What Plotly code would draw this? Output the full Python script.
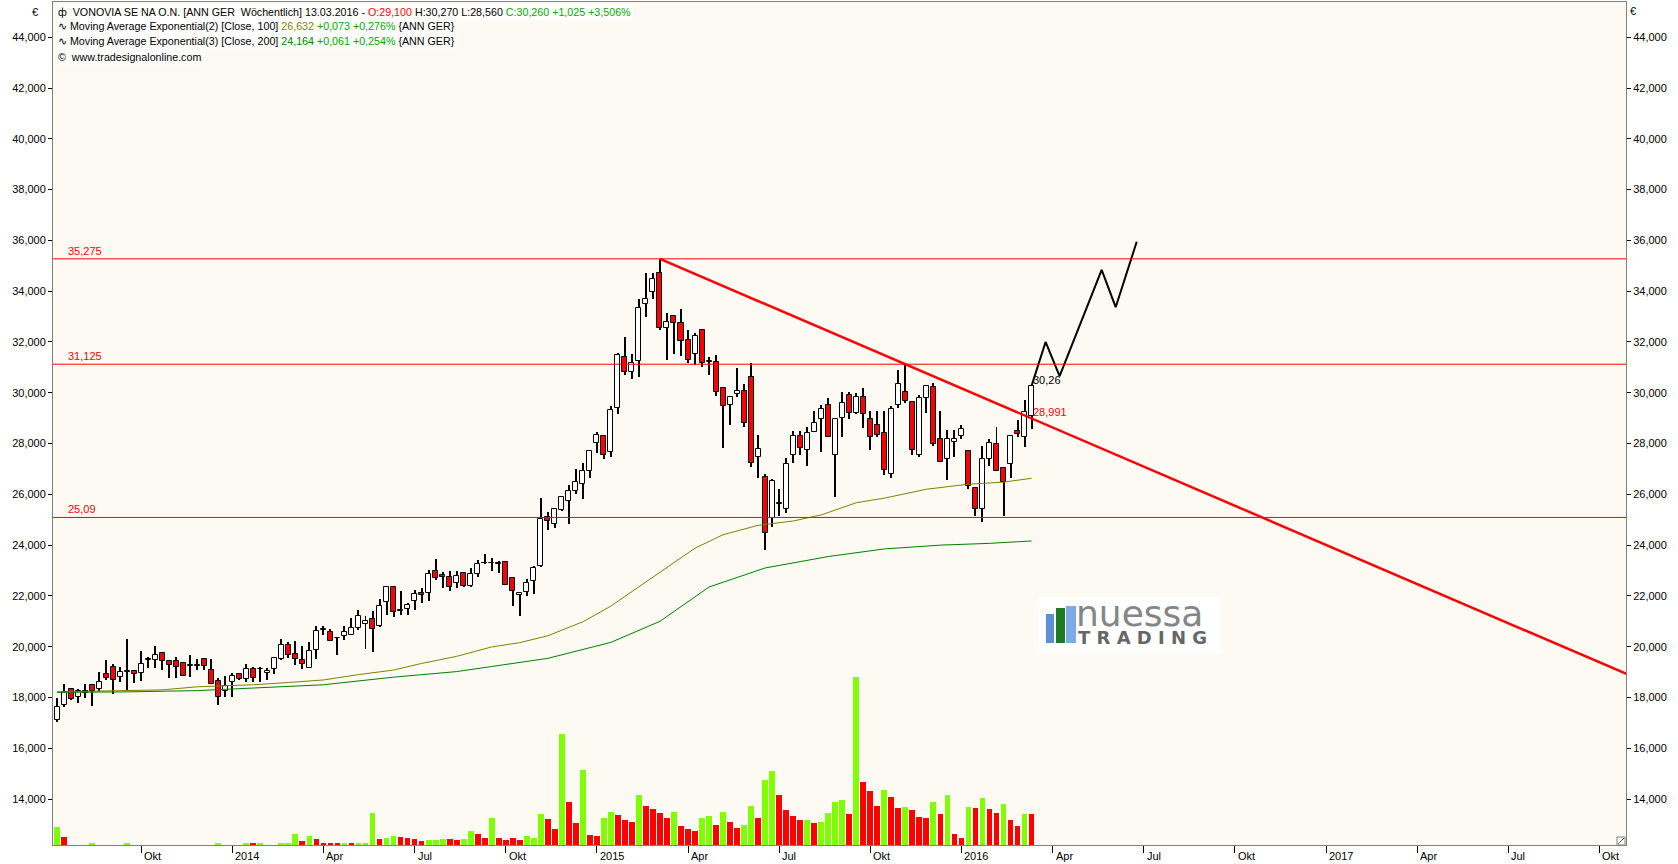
import pandas as pd
import plotly.graph_objects as go

# ---------------- data (weekly bars, dated by week-ending Sunday) ----------------
start_date = "2013-07-14"
n_bars = 140

open_ = [17.12, 17.69, 18.33, 18.02, 18.25, 18.49, 18.33, 18.92, 19.20, 18.80,
         19.00, 19.05, 18.96, 19.49, 19.47, 19.75, 19.43, 19.43, 19.37, 19.25,
         19.24, 19.51, 19.08, 18.65, 18.24, 18.60, 18.92, 18.72, 19.12, 19.11,
         18.96, 19.12, 19.51, 20.06, 19.73, 19.48, 19.16, 19.86, 20.67, 20.57,
         20.33, 20.42, 20.48, 20.73, 20.91, 21.10, 20.80, 21.75, 22.34, 21.42,
         21.47, 21.79, 22.11, 22.11, 22.99, 22.82, 22.74, 22.50, 22.91, 22.38,
         22.86, 23.28, 23.28, 23.31, 23.33, 22.70, 22.02, 22.17, 22.58, 23.18,
         25.10, 24.83, 25.39, 25.73, 26.12, 26.40, 26.93, 28.04, 28.28, 27.67,
         29.39, 31.39, 30.81, 31.24, 33.49, 33.96, 34.71, 32.54, 33.03, 32.74,
         32.08, 31.52, 32.48, 31.22, 31.23, 30.18, 29.50, 29.94, 30.06, 30.61,
         27.46, 26.68, 25.06, 25.62, 25.42, 27.54, 28.29, 27.74, 28.45, 28.96,
         29.51, 27.54, 29.00, 29.90, 29.20, 29.82, 28.96, 28.72, 28.42, 26.79,
         29.51, 30.02, 29.64, 27.53, 29.79, 30.22, 28.17, 27.40, 28.07, 28.30,
         27.70, 26.24, 25.42, 27.40, 27.98, 27.04, 27.19, 28.50, 28.25, 29.10]
high = [17.98, 18.54, 18.36, 18.33, 18.54, 18.54, 19.01, 19.48, 19.33, 19.20,
        20.31, 19.07, 19.83, 19.60, 20.04, 19.77, 19.44, 19.59, 19.37, 19.68,
        19.51, 19.53, 19.51, 18.76, 18.85, 18.96, 18.98, 19.32, 19.20, 19.20,
        19.15, 19.56, 20.31, 20.18, 20.24, 20.04, 20.20, 20.80, 20.80, 20.69,
        20.40, 20.80, 21.14, 21.45, 21.19, 21.40, 21.89, 22.34, 22.36, 22.21,
        21.72, 22.24, 22.31, 23.03, 23.45, 22.96, 22.99, 23.00, 22.96, 23.09,
        23.42, 23.66, 23.49, 23.36, 23.39, 22.70, 22.11, 22.66, 23.16, 25.86,
        25.30, 25.42, 25.94, 26.37, 26.99, 27.23, 27.70, 28.47, 28.28, 29.47,
        31.58, 32.19, 31.52, 33.68, 34.71, 34.72, 35.275, 33.13, 33.07, 33.29,
        32.48, 32.35, 32.53, 31.40, 31.50, 30.18, 29.82, 30.98, 30.34, 31.16,
        28.34, 26.81, 26.61, 26.20, 27.45, 28.51, 28.51, 28.64, 29.29, 29.52,
        29.78, 28.96, 30.04, 30.04, 29.98, 30.18, 29.29, 29.29, 29.30, 29.48,
        30.88, 31.10, 29.64, 29.92, 30.27, 30.40, 29.30, 28.54, 28.54, 28.74,
        27.70, 26.24, 27.91, 28.17, 28.64, 27.04, 28.29, 28.93, 29.72, 30.27]
low = [17.05, 17.62, 17.90, 17.78, 17.98, 17.65, 18.25, 18.70, 18.13, 18.62,
       18.30, 18.57, 18.63, 19.15, 19.16, 19.10, 18.78, 18.78, 18.84, 18.82,
       19.09, 19.09, 18.53, 17.72, 18.02, 18.01, 18.67, 18.62, 18.62, 18.59,
       18.70, 18.92, 19.49, 19.55, 19.28, 19.14, 19.16, 19.51, 20.47, 20.22,
       19.68, 20.27, 20.45, 20.66, 19.92, 19.81, 20.76, 21.26, 21.16, 21.26,
       21.26, 21.43, 21.72, 21.81, 22.63, 22.33, 22.21, 22.33, 22.34, 22.34,
       22.74, 23.26, 22.99, 22.90, 22.42, 21.62, 21.19, 21.98, 22.08, 23.12,
       24.59, 24.69, 25.36, 24.83, 26.01, 25.81, 26.64, 27.62, 27.40, 27.46,
       29.17, 30.71, 30.54, 30.64, 33.00, 33.68, 32.48, 31.30, 31.53, 31.43,
       31.16, 31.10, 31.03, 30.71, 29.89, 27.84, 28.75, 29.85, 28.67, 27.07,
       26.66, 23.79, 24.71, 25.13, 25.26, 27.23, 27.56, 27.10, 28.45, 27.65,
       28.25, 25.89, 28.25, 28.97, 29.16, 28.60, 27.75, 28.27, 26.77, 26.64,
       29.39, 29.59, 27.53, 27.49, 29.22, 27.91, 27.27, 26.57, 27.49, 28.17,
       26.20, 25.13, 24.93, 27.10, 26.91, 25.13, 26.64, 28.25, 27.86, 28.56]
close = [17.62, 18.21, 17.95, 18.25, 18.17, 18.24, 18.62, 18.76, 18.67, 19.01,
         19.03, 18.92, 19.33, 19.52, 19.67, 19.42, 19.26, 19.19, 18.84, 19.27,
         19.26, 19.25, 18.53, 18.02, 18.44, 18.84, 18.74, 19.12, 18.75, 19.13,
         19.05, 19.55, 20.06, 19.68, 19.51, 19.32, 19.84, 20.61, 20.69, 20.22,
         20.35, 20.57, 20.73, 21.20, 21.01, 20.69, 21.60, 22.34, 21.35, 21.44,
         21.64, 22.07, 22.03, 22.87, 22.70, 22.74, 22.34, 22.78, 22.38, 22.86,
         23.25, 23.30, 23.30, 23.27, 22.42, 22.21, 22.11, 22.50, 23.09, 25.02,
         24.94, 25.42, 25.89, 26.12, 26.48, 26.91, 27.70, 28.32, 27.56, 29.34,
         31.47, 30.81, 31.19, 33.33, 33.68, 34.47, 32.57, 32.78, 32.74, 32.04,
         31.28, 32.25, 31.16, 31.24, 30.05, 29.46, 29.82, 30.06, 28.80, 27.25,
         27.78, 24.47, 26.52, 25.64, 27.19, 28.29, 27.82, 28.41, 28.80, 29.35,
         28.25, 28.96, 29.59, 29.20, 29.82, 29.16, 28.25, 28.33, 26.96, 29.35,
         30.34, 29.67, 27.75, 29.79, 30.27, 27.99, 27.27, 28.17, 28.17, 28.57,
         26.31, 25.42, 27.40, 28.01, 26.91, 26.48, 28.29, 28.38, 29.25, 30.26]

# volume (relative) and its colour flag (1 = green, 0 = red)
volume = [5.5, 2.5, 0, 0, 0, 0.4, 0, 0, 0, 0,
          0.4, 0, 0, 0, 0, 0, 0, 0, 0, 0,
          0, 0, 0, 0.4, 0, 0, 0, 0.4, 0.4, 0.4,
          0, 0, 0.4, 0.4, 3.4, 1.3, 2.8, 1.9, 0.7, 0.4,
          0.4, 0.7, 0.4, 0.7, 0.7, 9.7, 1.9, 2.2, 2.8, 2.5,
          2.2, 1.9, 1.3, 1.6, 1.6, 1.9, 1.9, 1.6, 1.9, 4.3,
          3.4, 2.2, 8.2, 2.2, 1.6, 2.2, 1.6, 2.8, 2.0, 9.4,
          7.9, 4.9, 33.4, 13.0, 6.7, 22.6, 3.1, 2.8, 8.2, 10.0,
          9.1, 7.6, 7.0, 15.1, 11.8, 10.9, 9.7, 8.2, 10.0, 5.8,
          4.9, 4.3, 8.2, 8.8, 6.1, 10.0, 7.0, 5.2, 6.1, 11.8,
          8.2, 19.6, 22.3, 15.1, 10.6, 8.8, 7.6, 7.6, 6.7, 7.0,
          9.7, 13.0, 13.6, 9.4, 50.5, 19.0, 16.3, 11.8, 16.6, 14.5,
          11.2, 11.5, 10.6, 8.5, 8.2, 13.0, 9.4, 15.1, 3.4, 2.2,
          11.5, 11.2, 14.2, 10.9, 9.7, 12.4, 7.6, 5.8, 9.4, 9.4]
vol_up = [1, 0, 1, 1, 1, 1, 1, 1, 1, 1,
          1, 1, 1, 1, 1, 1, 1, 1, 1, 1,
          1, 1, 1, 1, 1, 1, 1, 1, 0, 1,
          1, 1, 1, 1, 1, 0, 1, 0, 0, 0,
          0, 1, 0, 1, 1, 1, 0, 1, 1, 0,
          0, 0, 0, 1, 1, 1, 0, 0, 1, 1,
          0, 0, 1, 0, 0, 0, 0, 1, 1, 1,
          0, 0, 1, 0, 0, 1, 0, 0, 1, 1,
          0, 0, 0, 1, 0, 0, 0, 0, 1, 0,
          0, 0, 1, 1, 0, 1, 0, 0, 1, 1,
          0, 1, 1, 0, 0, 0, 0, 1, 0, 1,
          1, 1, 1, 0, 1, 0, 0, 0, 1, 0,
          0, 1, 0, 0, 0, 1, 0, 1, 0, 0,
          1, 0, 1, 0, 0, 1, 0, 0, 1, 0]

# exponential moving averages (bar index -> value)
ema100_idx = [0, 8, 15, 20, 28, 33, 38, 43, 48, 52, 57, 62, 66, 70, 75, 79, 84, 88,
              91, 95, 100, 105, 109, 114, 118, 124, 130, 135, 139]
ema100_val = [18.22, 18.26, 18.30, 18.42, 18.50, 18.59, 18.69, 18.90, 19.08, 19.34,
              19.62, 19.99, 20.16, 20.43, 20.98, 21.60, 22.55, 23.33, 23.88, 24.41,
              24.78, 24.95, 25.19, 25.67, 25.85, 26.20, 26.40, 26.48, 26.632]
ema200_idx = [0, 10, 20, 28, 38, 48, 57, 62, 66, 70, 79, 86, 93, 101, 110, 118, 126,
              133, 139]
ema200_val = [18.20, 18.22, 18.27, 18.37, 18.50, 18.80, 19.02, 19.22, 19.38, 19.54,
              20.17, 21.00, 22.35, 23.10, 23.55, 23.85, 24.00, 24.07, 24.164]

# horizontal levels
levels = [35.275, 31.125, 25.09]
level_labels = ["35,275", "31,125", "25,09"]

# down trend line and projected path
trend_dates = ["2015-03-08", "2016-03-13", "2017-10-29"]
trend_vals = [35.275, 28.991, 18.91]
proj_dates = ["2016-03-13", "2016-03-27", "2016-04-10", "2016-05-22", "2016-06-05", "2016-06-26"]
proj_vals = [30.27, 32.00, 30.66, 34.84, 33.37, 35.95]

# axes
x_tick_dates = ["2013-10-06", "2014-01-05", "2014-04-06", "2014-07-06", "2014-10-05",
                "2015-01-04", "2015-04-05", "2015-07-05", "2015-10-04", "2016-01-03",
                "2016-04-03", "2016-07-03", "2016-10-02", "2017-01-01", "2017-04-02",
                "2017-07-02", "2017-10-01"]
x_tick_text = ["Okt", "2014", "Apr", "Jul", "Okt", "2015", "Apr", "Jul", "Okt", "2016",
               "Apr", "Jul", "Okt", "2017", "Apr", "Jul", "Okt"]
y_tick_vals = [14, 16, 18, 20, 22, 24, 26, 28, 30, 32, 34, 36, 38, 40, 42, 44]
y_tick_text = ["14,000", "16,000", "18,000", "20,000", "22,000", "24,000", "26,000",
               "28,000", "30,000", "32,000", "34,000", "36,000", "38,000", "40,000",
               "42,000", "44,000"]

# ---------------- figure ----------------
W, H = 1678, 864
ML, MR, MT, MB = 53, 52, 2, 19
PW, PH = W - ML - MR, H - MT - MB
FONT = "Liberation Sans, Arial, sans-serif"
BG = "#FCFAF3"
RED = "#FF0000"
LIME = "#80FF00"
DAY = 86400000

dates = pd.date_range(start_date, periods=n_bars, freq="7D")


def px_x(x):
    return (x - ML) / PW


def px_y(y):
    return (H - MB - y) / PH


fig = go.Figure()

# wicks
fig.add_trace(go.Bar(
    x=dates, y=[h - l for h, l in zip(high, low)], base=low,
    width=1 * DAY, marker=dict(color="#000000", line=dict(width=0)),
    hoverinfo="skip", showlegend=False))

# bodies
body_colors = ["#FFFFFF" if c >= o else RED for o, c in zip(open_, close)]
fig.add_trace(go.Bar(
    x=dates, y=[abs(c - o) for o, c in zip(open_, close)],
    base=[min(o, c) for o, c in zip(open_, close)],
    width=5 * DAY, marker=dict(color=body_colors, line=dict(color="#000000", width=1)),
    customdata=list(zip(open_, high, low, close)),
    hovertemplate="O %{customdata[0]}<br>H %{customdata[1]}<br>L %{customdata[2]}<br>C %{customdata[3]}<extra></extra>",
    showlegend=False))

# volume
fig.add_trace(go.Bar(
    x=dates, y=volume, yaxis="y2", width=5.8 * DAY,
    marker=dict(color=[LIME if u else RED for u in vol_up], line=dict(width=0)),
    hoverinfo="skip", showlegend=False))

# EMAs
fig.add_trace(go.Scatter(x=[dates[i] for i in ema100_idx], y=ema100_val, mode="lines",
                         line=dict(color="#808000", width=1), hoverinfo="skip", showlegend=False))
fig.add_trace(go.Scatter(x=[dates[i] for i in ema200_idx], y=ema200_val, mode="lines",
                         line=dict(color="#008000", width=1), hoverinfo="skip", showlegend=False))

# trend line and projection
fig.add_trace(go.Scatter(x=trend_dates, y=trend_vals, mode="lines",
                         line=dict(color=RED, width=2.5), hoverinfo="skip", showlegend=False))
fig.add_trace(go.Scatter(x=proj_dates, y=proj_vals, mode="lines",
                         line=dict(color="#000000", width=2), hoverinfo="skip", showlegend=False))

shapes = []
for lv in levels:
    shapes.append(dict(type="line", xref="paper", x0=0, x1=1, yref="y", y0=lv, y1=lv,
                       line=dict(color=RED, width=1), layer="above"))

# logo box
shapes.append(dict(type="rect", xref="paper", yref="paper",
                   x0=px_x(1038), x1=px_x(1222), y0=px_y(653), y1=px_y(597),
                   fillcolor="#FFFFFF", line=dict(width=0), layer="above"))
for (x0, x1, y0, col) in [(1046, 1054, 614, "#5E8FD6"), (1056, 1065, 608, "#1E7A22"),
                          (1066, 1076, 606, "#7DA9E6")]:
    shapes.append(dict(type="rect", xref="paper", yref="paper",
                       x0=px_x(x0), x1=px_x(x1), y0=px_y(643), y1=px_y(y0),
                       fillcolor=col, line=dict(width=0), layer="above"))
# resize grip corner
shapes.append(dict(type="rect", xref="paper", yref="paper",
                   x0=px_x(1617), x1=px_x(1625), y0=px_y(845), y1=px_y(837),
                   fillcolor="#FFFFFF", line=dict(color="#808080", width=1), layer="above"))
shapes.append(dict(type="line", xref="paper", yref="paper",
                   x0=px_x(1618), x1=px_x(1624), y0=px_y(844), y1=px_y(838),
                   line=dict(color="#606060", width=1), layer="above"))

ann = []
# x tick labels (left aligned, right of tick mark)
for d, t in zip(x_tick_dates, x_tick_text):
    ann.append(dict(x=d, xref="x", y=0, yref="paper", text=t, showarrow=False,
                    xanchor="left", yanchor="top", xshift=1, yshift=-3,
                    font=dict(family=FONT, size=11, color="#000000")))

# level labels
for lv, t in zip(levels, level_labels):
    ann.append(dict(x=px_x(66), xref="paper", y=lv, yref="y", text=t, showarrow=False,
                    xanchor="left", yanchor="bottom", yshift=0,
                    font=dict(family=FONT, size=11, color=RED)))

ann.append(dict(x=dates[-1], xref="x", y=30.51, yref="y", text="30,26", showarrow=False,
                xanchor="left", yanchor="middle", xshift=-1,
                font=dict(family=FONT, size=11, color="#000000")))
ann.append(dict(x=dates[-1], xref="x", y=29.25, yref="y", text="28,991", showarrow=False,
                xanchor="left", yanchor="middle", xshift=-1,
                font=dict(family=FONT, size=11, color=RED)))

# header
GREEN_TXT = "#00A800"
header = [
    (11.7, "ф\u00a0\u00a0VONOVIA SE NA O.N. [ANN GER\u00a0\u00a0Wöchentlich] 13.03.2016 - "
           "<span style='color:#FF0000'>O:29,100</span> H:30,270 L:28,560 "
           f"<span style='color:{GREEN_TXT}'>C:30,260 +1,025 +3,506%</span>"),
    (25.7, "∿\u00a0Moving Average Exponential(2) [Close, 100] "
           "<span style='color:#808000'>26,632</span> "
           f"<span style='color:{GREEN_TXT}'>+0,073 +0,276%</span> {{ANN GER}}"),
    (40.7, "∿\u00a0Moving Average Exponential(3) [Close, 200] "
           "<span style='color:#008000'>24,164</span> "
           f"<span style='color:{GREEN_TXT}'>+0,061 +0,254%</span> {{ANN GER}}"),
    (56.8, "©\u00a0\u00a0www.tradesignalonline.com"),
]
for yc, t in header:
    ann.append(dict(x=px_x(56), xref="paper", y=px_y(yc), yref="paper", text=t,
                    showarrow=False, xanchor="left", yanchor="middle",
                    bgcolor="#FFFFFF", borderpad=1,
                    font=dict(family=FONT, size=10.7, color="#000000")))

# currency symbols
ann.append(dict(x=px_x(35), xref="paper", y=px_y(11.7), yref="paper", text="€",
                showarrow=False, xanchor="center", yanchor="middle",
                font=dict(family=FONT, size=11, color="#000000")))
ann.append(dict(x=px_x(1633), xref="paper", y=px_y(10.5), yref="paper", text="€",
                showarrow=False, xanchor="center", yanchor="middle",
                font=dict(family=FONT, size=11, color="#000000")))

# logo text
ann.append(dict(x=px_x(1075), xref="paper", y=px_y(613), yref="paper", text="nuessa",
                showarrow=False, xanchor="left", yanchor="middle", borderpad=0,
                font=dict(family="DejaVu Sans, sans-serif", size=36, color="#858585")))
ann.append(dict(x=px_x(1077), xref="paper", y=px_y(637), yref="paper",
                text="<b>T R A D I N G</b>", showarrow=False, xanchor="left",
                yanchor="middle", borderpad=0,
                font=dict(family="DejaVu Sans, sans-serif", size=18, color="#666666")))

axis_common = dict(showgrid=False, zeroline=False, linecolor="#808080", linewidth=1)

fig.update_layout(
    width=W, height=H,
    margin=dict(l=ML, r=MR, t=MT, b=MB, pad=0),
    paper_bgcolor="#FFFFFF", plot_bgcolor=BG,
    barmode="overlay", bargap=0,
    font=dict(family=FONT, size=11, color="#000000"),
    showlegend=False,
    hovermode="closest",
    xaxis=dict(type="date", range=["2013-07-10 00:00", "2017-10-27 12:00"],
               tickvals=x_tick_dates, ticktext=[""] * len(x_tick_dates),
               ticks="outside", ticklen=7, tickcolor="#000000", tickwidth=1,
               showline=True, mirror=True, fixedrange=True, **axis_common),
    yaxis=dict(range=[12.19, 45.39], tickvals=y_tick_vals, ticktext=y_tick_text,
               ticks="outside", ticklen=4, tickcolor="#000000",
               tickfont=dict(family=FONT, size=11, color="#000000"),
               showline=True, mirror=True, fixedrange=True, **axis_common),
    yaxis2=dict(range=[0, PH * 3 / 10], overlaying="y", side="left", visible=False,
                fixedrange=True),
    yaxis3=dict(range=[12.19, 45.39], overlaying="y", side="right", anchor="x",
                tickvals=y_tick_vals, ticktext=y_tick_text,
                ticks="outside", ticklen=4, tickcolor="#000000",
                tickfont=dict(family=FONT, size=11, color="#000000"),
                showline=False, fixedrange=True, showgrid=False, zeroline=False),
    shapes=shapes,
    annotations=ann,
)

# invisible trace so the right-hand axis is drawn
fig.add_trace(go.Scatter(x=[dates[0]], y=[44], yaxis="y3", mode="markers",
                         marker=dict(opacity=0), hoverinfo="skip", showlegend=False))

fig.write_html("out.html", config={"displayModeBar": False})

# remove the default page margin so the figure sits at the window's top-left corner
with open("out.html", "r", encoding="utf-8") as f:
    html = f.read()
html = html.replace("<head>", "<head><style>html,body{margin:0;padding:0;overflow:hidden;}</style>", 1)
with open("out.html", "w", encoding="utf-8") as f:
    f.write(html)
